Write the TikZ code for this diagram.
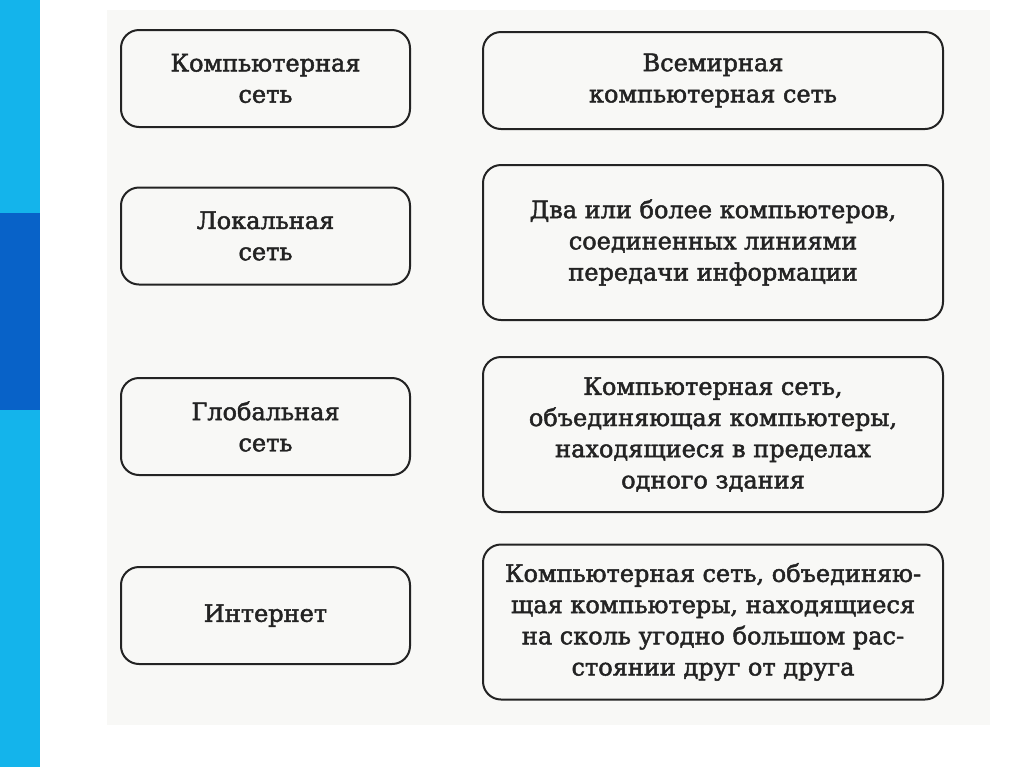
\documentclass[tikz,border=0pt]{standalone}
\usepackage{fontspec}
\setmainfont{DejaVu Serif}
\newfontfamily\boxfont[FakeBold=2]{DejaVu Serif}
\definecolor{stripe}{RGB}{20,180,235}
\definecolor{stripedark}{RGB}{8,98,200}
\definecolor{scan}{RGB}{248,248,246}
\definecolor{ink}{RGB}{35,35,35}

\begin{document}
\begin{tikzpicture}[x=0.5pt, y=-0.5pt,
    box/.style={draw=ink, line width=1pt, rounded corners=9pt, align=center, text=ink,
                font=\boxfont\fontsize{12}{15.6}\selectfont, inner sep=0pt},
    term/.style={box, minimum width=144.5pt, minimum height=48.5pt},
    defn/.style={box, minimum width=230pt, minimum height=77.5pt}]
    \useasboundingbox (0,0) rectangle (1024,767);
    \fill[white] (0,0) rectangle (1024,767);
    \fill[stripe] (0,0) rectangle (40,767);
    \fill[stripedark] (0,213) rectangle (40,410);
    \fill[scan] (107,10) rectangle (990,725);

    % terms
    \node[term] (net) at (265.5,78.5) {Компьютерная\\сеть};
    \node[term] (lan) at (265.5,236) {Локальная\\сеть};
    \node[term] (wan) at (265.5,426.5) {Глобальная\\сеть};
    \node[term] (inet) at (265.5,615.5) {Интернет};

    % definitions
    \node[box, minimum width=230pt, minimum height=48.5pt] (www) at (713,80.5)
        {Всемирная\\компьютерная сеть};
    \node[defn] (dnet) at (713,242.5)
        {Два или более компьютеров,\\соединенных линиями\\передачи информации};
    \node[defn] (dlan) at (713,434.5)
        {Компьютерная сеть,\\объединяющая компьютеры,\\находящиеся в пределах\\одного здания};
    \node[defn] (dwan) at (713,622)
        {Компьютерная сеть, объединяю-\\щая компьютеры, находящиеся\\на сколь угодно большом рас-\\стоянии друг от друга};
\end{tikzpicture}
\end{document}
